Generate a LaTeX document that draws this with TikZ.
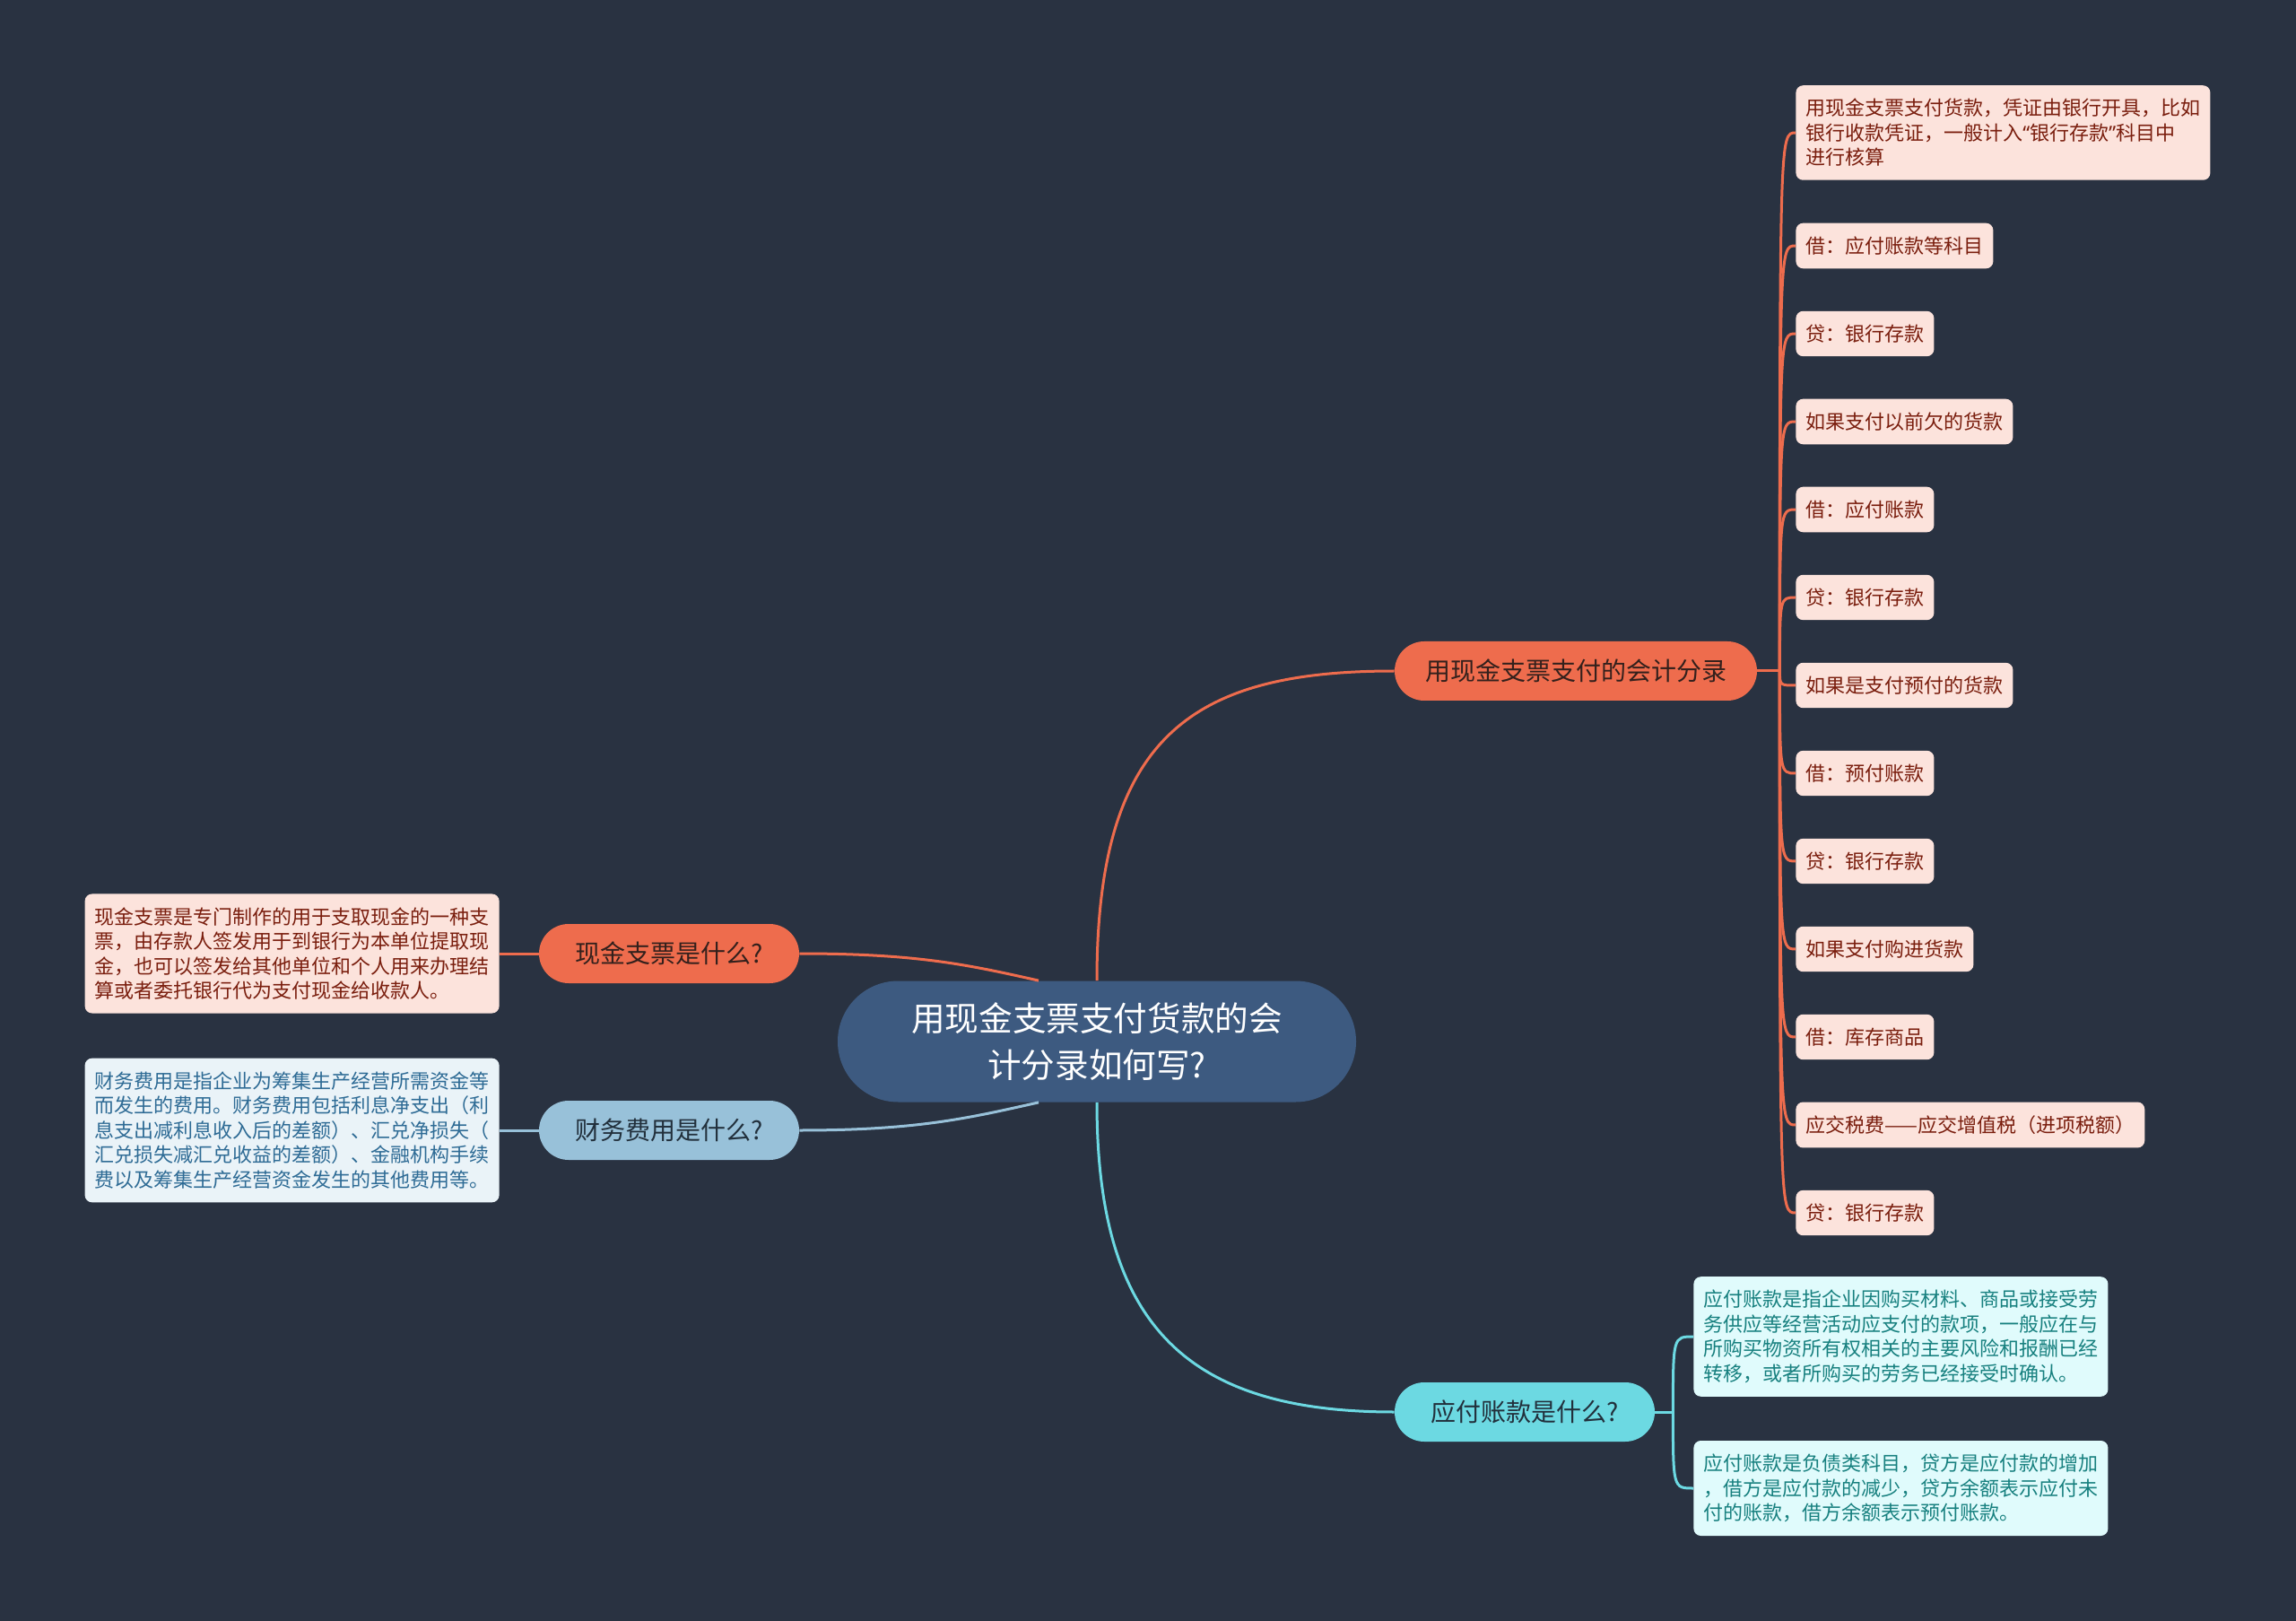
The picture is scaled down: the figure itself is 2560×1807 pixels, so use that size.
\documentclass[tikz,border=0pt]{standalone}
\usepackage{fontspec}
\setmainfont{Noto Sans CJK SC}
\newfontfamily\westq{Noto Sans}
\usepackage{xcolor}
\usepackage{tikz}
\usetikzlibrary{calc}

\definecolor{bgdark}{HTML}{293241}
\definecolor{rootblue}{HTML}{3D5A80}
\definecolor{orng}{HTML}{EE6C4D}
\definecolor{skyb}{HTML}{98C1D9}
\definecolor{cyanb}{HTML}{6CD9E2}
\definecolor{pinkfill}{HTML}{FCE3DC}
\definecolor{pinkink}{HTML}{7A1E0E}
\definecolor{cyanfill}{HTML}{E0FBFC}
\definecolor{cyanink}{HTML}{17807F}
\definecolor{skyfill}{HTML}{EAF3F8}
\definecolor{skyink}{HTML}{2E6B95}
\definecolor{warmink}{HTML}{33201C}
\definecolor{coolink}{HTML}{22303C}

\begin{document}
\begin{tikzpicture}[x=0.5pt,y=-0.5pt,
  rootnode/.style={fill=rootblue,text=white,rounded corners=33.7pt,minimum width=289pt,minimum height=67.5pt,align=center,font=\fontsize{18.8}{26}\selectfont},
  branch/.style={rounded corners=16.5pt,minimum height=33pt,minimum width=145pt,inner xsep=17pt,font=\fontsize{14}{17}\selectfont},
  leaf/.style={rounded corners=4pt,minimum height=25pt,inner xsep=5.5pt,inner ysep=7.5pt,align=left,font=\fontsize{11}{13.75}\selectfont},
  leafo/.style={leaf,fill=pinkfill,text=pinkink},
  leafc/.style={leaf,fill=cyanfill,text=cyanink},
  leafs/.style={leaf,fill=skyfill,text=skyink},
  link/.style={line width=1.5pt}]
  \fill[bgdark] (0,0) rectangle (2560,1807);

  \node[rootnode] (root) at (1223,1161) {用现金支票支付货款的会\\计分录如何写?};
  \node[branch,fill=orng,text=warmink] (acct) at (1757,748) {用现金支票支付的会计分录};
  \node[branch,fill=orng,text=warmink] (cash) at (746,1063) {现金支票是什么?};
  \node[branch,fill=skyb,text=coolink] (fee) at (746,1260) {财务费用是什么?};
  \node[branch,fill=cyanb,text=coolink] (ap) at (1700,1574) {应付账款是什么?};

  \node[leafo,anchor=east] (cashnote) at (557,1063) {现金支票是专门制作的用于支取现金的一种支\\票，由存款人签发用于到银行为本单位提取现\\金，也可以签发给其他单位和个人用来办理结\\算或者委托银行代为支付现金给收款人。};
  \node[leafs,anchor=east] (feenote) at (557,1260) {财务费用是指企业为筹集生产经营所需资金等\\而发生的费用。财务费用包括利息净支出（利\\息支出减利息收入后的差额）、汇兑净损失（\\汇兑损失减汇兑收益的差额）、金融机构手续\\费以及筹集生产经营资金发生的其他费用等。};
  \node[leafc,anchor=west] (apnote1) at (1888,1490) {应付账款是指企业因购买材料、商品或接受劳\\务供应等经营活动应支付的款项，一般应在与\\所购买物资所有权相关的主要风险和报酬已经\\转移，或者所购买的劳务已经接受时确认。};
  \node[leafc,anchor=west] (apnote2) at (1888,1659) {应付账款是负债类科目，贷方是应付款的增加\\，借方是应付款的减少，贷方余额表示应付未\\付的账款，借方余额表示预付账款。};
  \node[leafo,anchor=west] (acctnote) at (2002,148) {用现金支票支付货款，凭证由银行开具，比如\\银行收款凭证，一般计入{\westq “}银行存款{\westq ”}科目中\\进行核算};

  \draw[link,orng] (root.north) .. controls +(0,-274) and +(-224,0) .. (acct.west);
  \draw[link,cyanb] (root.south) .. controls +(0,250) and +(-230,0) .. (ap.west);
  \draw[link,orng] (cash.east) .. controls +(130,0) and +(-80,-18) .. ($(root.north)+(-65,0)$);
  \draw[link,skyb] (fee.east) .. controls +(130,0) and +(-80,18) .. ($(root.south)+(-65,0)$);
  \draw[link,orng] (cash.west) -- (cashnote.east);
  \draw[link,skyb] (fee.west) -- (feenote.east);

  \coordinate (hubA) at ($(acct.east)+(25,0)$);
  \draw[link,orng] (acct.east) -- (hubA);
  \draw[link,orng] (hubA) .. controls (hubA |- acctnote.west) .. (acctnote.west);
  \foreach \n/\y/\t in {e1/274/借：应付账款等科目,e2/372/贷：银行存款,e3/470/如果支付以前欠的货款,e4/568/借：应付账款,e5/666/贷：银行存款,e6/764/如果是支付预付的货款,e7/862/借：预付账款,e8/960/贷：银行存款,e9/1058/如果支付购进货款,e10/1156/借：库存商品,e11/1254/应交税费——应交增值税（进项税额）,e12/1352/贷：银行存款} {
    \node[leafo,anchor=west] (\n) at (2002,\y) {\t};
    \draw[link,orng] (hubA) .. controls (hubA |- \n.west) .. (\n.west);
  }

  \coordinate (hubB) at ($(ap.east)+(20,0)$);
  \draw[link,cyanb] (ap.east) -- (hubB);
  \draw[link,cyanb] (hubB) .. controls (hubB |- apnote1.west) .. (apnote1.west);
  \draw[link,cyanb] (hubB) .. controls (hubB |- apnote2.west) .. (apnote2.west);
\end{tikzpicture}
\end{document}
